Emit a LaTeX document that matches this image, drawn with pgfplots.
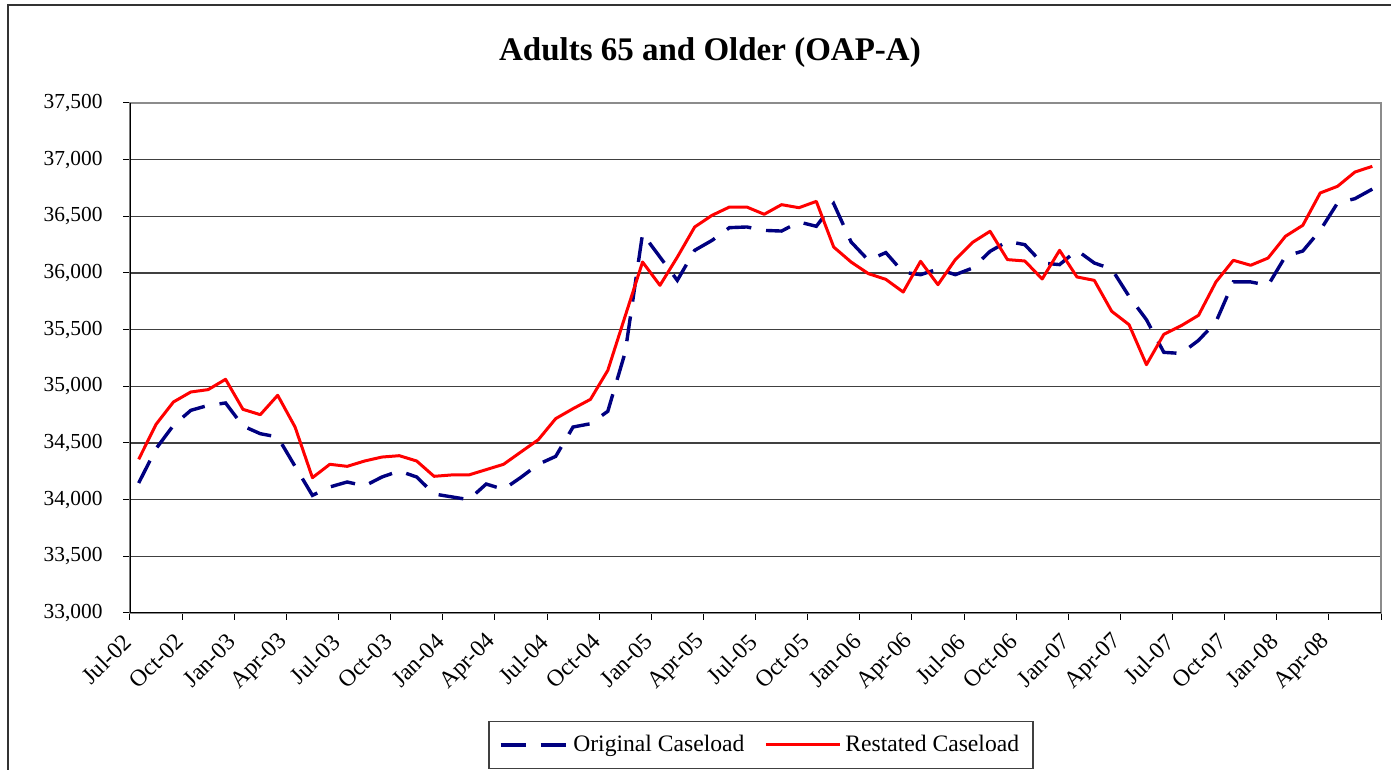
\documentclass[border=0pt]{standalone}
\usepackage{fontspec}
\setmainfont{Liberation Serif}
\usepackage{pgfplots}
\usepackage{pgfplotstable}
\pgfplotsset{compat=1.18}
\definecolor{navy}{RGB}{0,0,128}
\definecolor{redline}{RGB}{255,0,0}
\pgfplotsset{
  bluelegend/.style={legend image code/.code={\draw[##1] (0pt,0pt) -- (33.5pt,0pt);}},
  redlegend/.style={legend image code/.code={\draw[##1] (0pt,0pt) -- (37pt,0pt);}},
}
\pgfplotstableread{
x orig rest
0 34147 34356
1 34450 34665
2 34656 34862
3 34788 34950
4 34832 34971
5 34853 35062
6 34650 34797
7 34582 34750
8 34553 34921
9 34294 34641
10 34038 34194
11 34112 34312
12 34156 34294
13 34121 34341
14 34200 34376
15 34253 34388
16 34200 34341
17 34050 34206
18 34025 34218
19 34000 34218
20 34138 34265
21 34091 34312
22 34197 34421
23 34312 34529
24 34382 34715
25 34641 34803
26 34670 34885
27 34780 35141
28 35300 35620
29 36347 36097
30 36141 35891
31 35935 36140
32 36200 36406
33 36288 36509
34 36400 36582
35 36406 36582
36 36376 36518
37 36370 36603
38 36450 36576
39 36412 36632
40 36612 36229
41 36274 36097
42 36112 35994
43 36180 35944
44 36006 35832
45 35985 36103
46 36035 35897
47 35985 36118
48 36044 36271
49 36191 36368
50 36279 36118
51 36250 36106
52 36088 35947
53 36074 36200
54 36200 35965
55 36088 35935
56 36035 35662
57 35794 35544
58 35588 35191
59 35300 35459
60 35290 35535
61 35406 35627
62 35568 35921
63 35921 36112
64 35921 36068
65 35891 36132
66 36147 36324
67 36194 36421
68 36376 36706
69 36618 36765
70 36656 36891
71 36740 36941
}\datatable
\begin{document}
\begin{tikzpicture}
\path[use as bounding box] (-65pt,-78.5pt) rectangle (630.5pt,306.5pt);
\draw[line width=0.9pt, black!80] (-61pt,-95pt) -- (-61pt,304pt) -- (640pt,304pt);
\begin{axis}[
  at={(0pt,0pt)}, anchor=south west,
  width=625.5pt, height=255pt, scale only axis,
  xmin=-0.5, xmax=71.5, ymin=33000, ymax=37500,
  xtick={-0.5,2.5,...,71.5},
  xticklabels={Jul-02,Oct-02,Jan-03,Apr-03,Jul-03,Oct-03,Jan-04,Apr-04,Jul-04,Oct-04,Jan-05,Apr-05,Jul-05,Oct-05,Jan-06,Apr-06,Jul-06,Oct-06,Jan-07,Apr-07,Jul-07,Oct-07,Jan-08,Apr-08,},
  ytick={33000,33500,...,37500},
  scaled y ticks=false,
  /pgf/number format/fixed,
  /pgf/number format/1000 sep={,},
  /pgf/number format/assume math mode=true,
  tick label style={black},
  yticklabel style={font=\fontsize{10.7}{12}\selectfont, inner sep=0pt, xshift=-10pt},
  xticklabel style={font=\fontsize{11.8}{13}\selectfont, xshift=-1.2pt, yshift=-8.9pt, rotate=45, anchor=east, inner sep=0pt},
  tick align=outside,
  major tick length=3.5pt,
  tick style={black, line width=0.5pt},
  xtick pos=bottom, ytick pos=left,
  ymajorgrids,
  major grid style={black!75, line width=0.55pt},
  axis line style={draw=black!45, line width=0.7pt},
  title={Adults 65 and Older (OAP-A)},
  title style={at={(0.4636,1.075)}, anchor=center, yshift=0pt, font=\fontsize{16.5}{18}\selectfont\bfseries},
  legend columns=2,
  legend style={at={(0.5044,-0.2588)}, anchor=center, draw=black!75, line width=0.6pt,
    font=\fontsize{11.8}{13}\selectfont, inner xsep=5pt, inner ysep=5pt,
    /tikz/every even column/.append style={column sep=8pt}},
  legend cell align=left,
]
\addplot[navy, line width=1.7pt, dash pattern=on 12.5pt off 7.5pt, bluelegend]
  table[x=x, y=orig] {\datatable};
\addlegendentry{Original Caseload}
\addplot[redline, line width=1.5pt, line join=round, redlegend]
  table[x=x, y=rest] {\datatable};
\addlegendentry{Restated Caseload}
\draw[black, line width=0.7pt] (rel axis cs:0,1) -- (rel axis cs:0,0) -- (rel axis cs:1,0);
\end{axis}
\end{tikzpicture}
\end{document}
